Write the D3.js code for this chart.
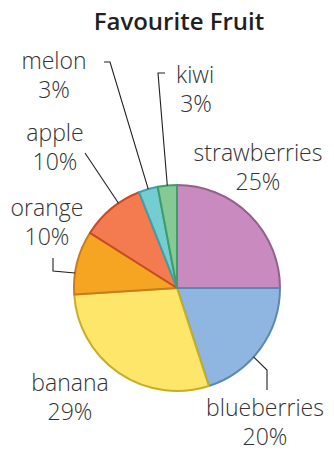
<!DOCTYPE html>
<html>
<head>
<meta charset="utf-8">
<script src="https://cdn.jsdelivr.net/npm/d3@7"></script>
<style>
  html, body { margin: 0; padding: 0; background: #fff; }
  svg { display: block; }
</style>
</head>
<body>
<svg id="chart" width="334" height="456"></svg>
<script>
// Survey results, clockwise from twelve o'clock
const fruits = ["strawberries", "blueberries", "banana", "orange", "apple", "melon", "kiwi"];
const shares = [25, 20, 29, 10, 10, 3, 3];
const fillColors   = ["#c98bbf", "#8fb6e0", "#fee66b", "#f6a523", "#f47b50", "#74cdd1", "#86c994"];
const strokeColors = ["#95608f", "#5b88b0", "#c8ae22", "#c97c1b", "#c94a27", "#3aa3aa", "#3e9d68"];

// Label placement: text centre, and leader line (angle offset from the slice middle + elbow points)
const labelLayout = {
  strawberries: { x: 258, y: 161, leader: null },
  blueberries:  { x: 265, y: 416, leader: { da: 6,  pts: [[267, 370], [267, 390]] } },
  banana:       { x: 70,  y: 391, leader: null },
  orange:       { x: 47,  y: 216, leader: { da: -6, pts: [[53, 271], [53, 258]] } },
  apple:        { x: 55,  y: 141, leader: { da: 5,  pts: [[85, 153]] } },
  melon:        { x: 54,  y: 69,  leader: { da: 0,  pts: [[110, 62], [104, 62]] } },
  kiwi:         { x: 196, y: 83,  anchorX: 176, leader: { da: 0, pts: [[158, 73], [165, 73]] } }
};

const svg = d3.select("#chart");
const cx = 177, cy = 288, R = 103;

svg.append("text")
  .attr("x", 179).attr("y", 30)
  .attr("text-anchor", "middle")
  .attr("font-family", "'Open Sans', sans-serif")
  .attr("font-weight", 600)
  .attr("font-size", 24)
  .attr("fill", "#231f20")
  .text("Favourite Fruit");

const data = fruits.map((f, i) => ({ name: f, value: shares[i], i }));
const pie = d3.pie().value(d => d.value).sort(null);
const arcs = pie(data);
const arc = d3.arc().innerRadius(0).outerRadius(R);

const g = svg.append("g").attr("transform", `translate(${cx},${cy})`);
g.selectAll("path")
  .data(arcs)
  .join("path")
  .attr("d", arc)
  .attr("fill", d => fillColors[d.data.i])
  .attr("stroke", d => strokeColors[d.data.i])
  .attr("stroke-width", 2)
  .attr("stroke-linejoin", "round");

// Leader lines from the rim out to the labels
arcs.forEach(a => {
  const lay = labelLayout[a.data.name];
  if (!lay.leader) return;
  const ang = (a.startAngle + a.endAngle) / 2 + lay.leader.da * Math.PI / 180;
  const start = [cx + R * Math.sin(ang), cy - R * Math.cos(ang)];
  const pts = [start, ...lay.leader.pts];
  svg.append("path")
    .attr("d", d3.line()(pts))
    .attr("fill", "none")
    .attr("stroke", "#231f20")
    .attr("stroke-width", 1.1);
});

// Two-line labels: name and share
arcs.forEach(a => {
  const lay = labelLayout[a.data.name];
  const t = svg.append("text")
    .attr("font-family", "'Open Sans', sans-serif")
    .attr("font-weight", 300)
    .attr("font-size", 23)
    .attr("fill", "#333333")
    .attr("text-anchor", "middle");
  t.append("tspan")
    .attr("x", lay.anchorX !== undefined ? lay.anchorX : lay.x)
    .attr("text-anchor", lay.anchorX !== undefined ? "start" : "middle")
    .attr("y", lay.y)
    .text(a.data.name);
  t.append("tspan")
    .attr("x", lay.x)
    .attr("y", lay.y + 29)
    .text(a.data.value + "%");
});
</script>
</body>
</html>
